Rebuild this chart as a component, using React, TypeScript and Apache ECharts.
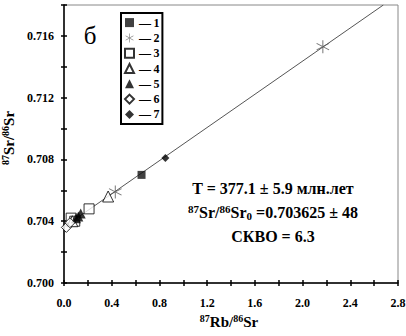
import React, { useEffect, useRef } from "react";
import * as echarts from "echarts";

const seriesNames = ["1", "2", "3", "4", "5", "6", "7"];
const s1 = [[0.65, 0.707]];
const s2 = [[2.17, 0.7153], [0.43, 0.7059]];
const s3 = [[0.21, 0.7048], [0.06, 0.7042], [0.09, 0.704]];
const s4 = [[0.37, 0.7056], [0.07, 0.704]];
const s5 = [[0.14, 0.7045], [0.12, 0.7043], [0.1, 0.7042]];
const s6 = [[0.02, 0.7036], [0.05, 0.7039]];
const s7 = [[0.85, 0.7081]];
const isochronX = [0, 2.677];
const isochronY = [0.703625, 0.718];
const annotation = ["T = 377.1 ± 5.9 млн.лет", "=0.703625 ± 48", "СКВО = 6.3"];

const FONT = '"Liberation Serif", "Times New Roman", serif';
const STAR =
  "path://M9.3 0L10.7 0L10.7 20L9.3 20Z M1.65 4.39L19.05 14.39L18.35 15.61L0.95 5.61Z M1.65 15.61L19.05 5.61L18.35 4.39L0.95 14.39Z";

export default function App() {
  const ref = useRef<HTMLDivElement>(null);
  useEffect(() => {
    document.body.style.margin = "0";
    if (!ref.current) return;
    const chart = echarts.init(ref.current, undefined, { renderer: "svg" });
    const open = { color: "#fff", borderColor: "#000", borderWidth: 1 };
    const filled = { color: "#000" };
    const sc = (name: string, data: number[][], symbol: string, size: number, itemStyle: any) => ({
      type: "scatter",
      name,
      data,
      symbol,
      symbolSize: size,
      itemStyle,
      z: 3,
    });
    const mk = (big: number, small: number) => ({
      sup: { fontSize: small, fontWeight: "bold", fontFamily: FONT, verticalAlign: "top", lineHeight: small, color: "#000" },
      b: { fontSize: big, fontWeight: "bold", fontFamily: FONT, lineHeight: big + 2, color: "#000" },
      sub: { fontSize: small, fontWeight: "bold", fontFamily: FONT, verticalAlign: "bottom", lineHeight: small, color: "#000" },
    });
    const rich = mk(15, 10);
    const rich16 = mk(16, 11);
    chart.setOption({
      animation: false,
      grid: {
        left: 64,
        right: 8,
        top: 5,
        bottom: 53,
        show: true,
        borderColor: "#888",
        borderWidth: 1,
        containLabel: false,
        outerBoundsMode: "none",
      },
      legend: {
        orient: "vertical",
        left: 121,
        top: 13,
        data: seriesNames,
        padding: [3.6, 3, 3.6, 3],
        itemGap: 3.3,
        itemWidth: 9,
        itemHeight: 9,
        borderColor: "#000",
        borderWidth: 2,
        backgroundColor: "#fff",
        formatter: (n: string) => "—\u2009" + n,
        textStyle: { fontFamily: FONT, fontWeight: "bold", fontSize: 12, lineHeight: 12, color: "#000" },
      },
      xAxis: [
        {
          type: "value",
          min: 0,
          max: 2.8,
          interval: 0.2,
          splitLine: { show: false },
          axisLine: { onZero: false, lineStyle: { color: "#000", width: 1.5 } },
          axisTick: { length: 3, lineStyle: { color: "#000", width: 1.5 } },
          axisLabel: {
            margin: 14,
            fontFamily: FONT,
            fontWeight: "bold",
            fontSize: 12,
            color: "#000",
            formatter: (v: number) => (Math.round(v * 10) % 4 === 0 ? v.toFixed(1) : ""),
          },
          name: "{sup|87}{b|Rb/}{sup|86}{b|Sr}",
          nameLocation: "middle",
          nameGap: 30,
          nameTextStyle: { rich, padding: [0, 4, 0, 0] },
        },
        {
          type: "value",
          min: 0,
          max: 2.8,
          interval: 0.2,
          position: "bottom",
          splitLine: { show: false },
          axisLine: { show: false },
          axisTick: { inside: true, length: 3, lineStyle: { color: "#000", width: 1.5 } },
          axisLabel: { show: false },
        },
      ],
      yAxis: [
        {
          type: "value",
          min: 0.7,
          max: 0.718,
          interval: 0.002,
          splitLine: { show: false },
          axisLine: { onZero: false, lineStyle: { color: "#000", width: 1.5 } },
          axisTick: { length: 3, lineStyle: { color: "#000", width: 1.5 } },
          axisLabel: {
            margin: 10,
            fontFamily: FONT,
            fontWeight: "bold",
            fontSize: 12,
            color: "#000",
            formatter: (v: number) => (Math.round(v * 1000) % 4 === 0 ? v.toFixed(3) : ""),
          },
          name: "{sup|87}{b|Sr/}{sup|86}{b|Sr}",
          nameLocation: "middle",
          nameRotate: 90,
          nameGap: 46,
          nameTextStyle: { rich, padding: [0, 0, 0, 12] },
        },
        {
          type: "value",
          min: 0.7,
          max: 0.718,
          interval: 0.002,
          position: "left",
          splitLine: { show: false },
          axisLine: { show: false },
          axisTick: { inside: true, length: 3, lineStyle: { color: "#000", width: 1.5 } },
          axisLabel: { show: false },
        },
      ],
      series: [
        {
          type: "line",
          data: isochronX.map((x, i) => [x, isochronY[i]]),
          symbol: "none",
          lineStyle: { color: "#555", width: 1 },
          z: 2,
          silent: true,
        },
        sc("1", s1, "rect", 8, { color: "#111" }),
        sc("2", s2, STAR, 13, { color: "#555" }),
        sc("3", s3, "rect", 10, open),
        sc("4", s4, "triangle", 11, open),
        sc("5", s5, "triangle", 10, filled),
        sc("6", s6, "diamond", 10, open),
        sc("7", s7, "diamond", 8, filled),
      ],
      graphic: [
        {
          type: "text",
          x: 90,
          y: 35,
          style: { text: "б", fontFamily: FONT, fontSize: 25, fill: "#000", align: "center", verticalAlign: "middle" },
        },
        {
          type: "text",
          x: 273,
          y: 188,
          style: { text: annotation[0], fontFamily: FONT, fontWeight: "bold", fontSize: 16, fill: "#000", align: "center", verticalAlign: "middle" },
        },
        {
          type: "text",
          x: 273,
          y: 212,
          style: {
            text: "{sup|87}{b|Sr/}{sup|86}{b|Sr}{sub|0}{b| " + annotation[1] + "}",
            rich: rich16,
            align: "center",
            verticalAlign: "middle",
          },
        },
        {
          type: "text",
          x: 273,
          y: 236,
          style: { text: annotation[2], fontFamily: FONT, fontWeight: "bold", fontSize: 16, fill: "#000", align: "center", verticalAlign: "middle" },
        },
      ],
    });
    return () => chart.dispose();
  }, []);
  return <div ref={ref} style={{ width: 406, height: 336 }} />;
}
